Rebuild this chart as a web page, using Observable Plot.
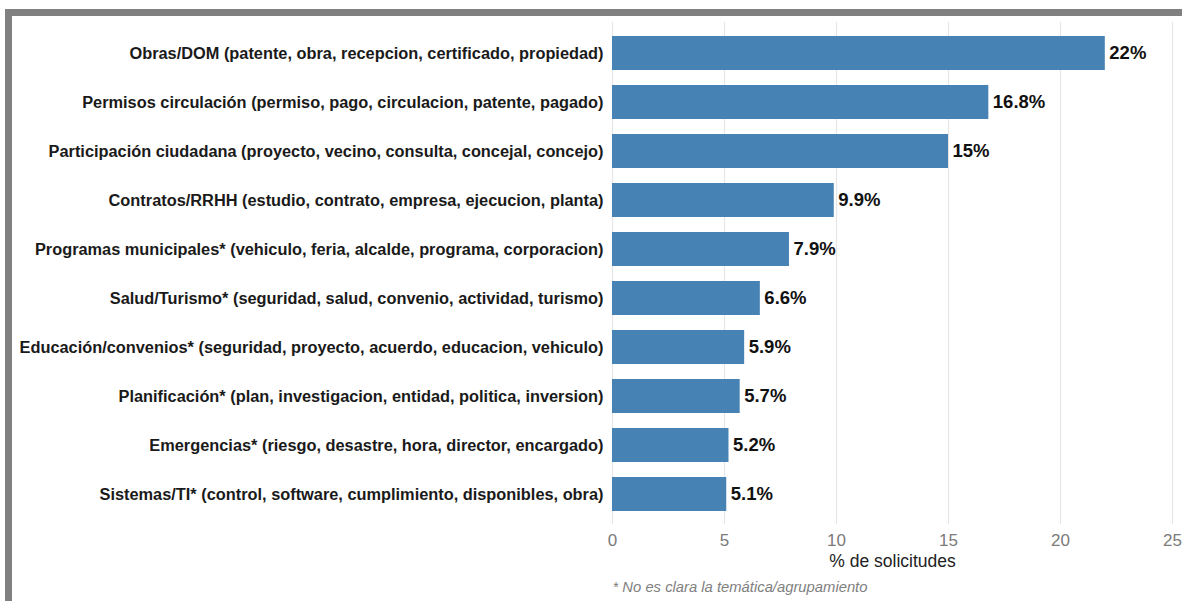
<!DOCTYPE html>
<html>
<head>
<meta charset="utf-8">
<script src="https://cdn.jsdelivr.net/npm/d3@7"></script>
<script src="https://cdn.jsdelivr.net/npm/@observablehq/plot@0.6"></script>
<style>
  html, body { margin: 0; padding: 0; background: #fff; }
  #wrap { position: relative; width: 1182px; height: 601px; overflow: hidden; font-family: "Liberation Sans", Arial, sans-serif; }
  #border { position: absolute; left: 5px; top: 9px; right: 0; bottom: 0; border-top: 7px solid #808080; border-left: 7px solid #808080; pointer-events: none; }
  #wrap svg { position: absolute; left: 0; top: 0; }
</style>
</head>
<body>
<div id="wrap"><div id="border"></div></div>
<script>
const categories = [
  "Obras/DOM (patente, obra, recepcion, certificado, propiedad)",
  "Permisos circulación (permiso, pago, circulacion, patente, pagado)",
  "Participación ciudadana (proyecto, vecino, consulta, concejal, concejo)",
  "Contratos/RRHH (estudio, contrato, empresa, ejecucion, planta)",
  "Programas municipales* (vehiculo, feria, alcalde, programa, corporacion)",
  "Salud/Turismo* (seguridad, salud, convenio, actividad, turismo)",
  "Educación/convenios* (seguridad, proyecto, acuerdo, educacion, vehiculo)",
  "Planificación* (plan, investigacion, entidad, politica, inversion)",
  "Emergencias* (riesgo, desastre, hora, director, encargado)",
  "Sistemas/TI* (control, software, cumplimiento, disponibles, obra)"
];
const values = [22, 16.8, 15, 9.9, 7.9, 6.6, 5.9, 5.7, 5.2, 5.1];
const valueLabels = ["22%", "16.8%", "15%", "9.9%", "7.9%", "6.6%", "5.9%", "5.7%", "5.2%", "5.1%"];
const xTicks = [0, 5, 10, 15, 20, 25];
const xTitle = "% de solicitudes";
const caption = "* No es clara la temática/agrupamiento";

const data = categories.map((c, i) => ({cat: c, value: values[i], label: valueLabels[i]}));

const chart = Plot.plot({
  width: 1182,
  height: 601,
  marginLeft: 612,
  marginRight: 10,
  marginTop: 22,
  marginBottom: 77,
  style: {fontFamily: "'Liberation Sans', Arial, sans-serif", background: "transparent"},
  x: {domain: [0, 25], label: null},
  y: {domain: categories, paddingInner: 0.31, paddingOuter: 0.26, label: null},
  marks: [
    Plot.gridX(xTicks, {stroke: "#e6e6e6", strokeOpacity: 1, strokeWidth: 1.2}),
    Plot.barX(data, {y: "cat", x: "value", fill: "#4682b4"}),
    Plot.text(data, {y: "cat", x: "value", text: "label", textAnchor: "start", dx: 4, fontSize: 18.5, fontWeight: "bold", fill: "#111"}),
    Plot.axisY({tickSize: 0, tickPadding: 9, fontSize: 16.35, fontWeight: "bold", color: "#1a1a1a", label: null}),
    Plot.axisX(xTicks, {tickSize: 0, tickPadding: 9, fontSize: 17, color: "#7a7a7a", label: null}),
    Plot.text([xTitle], {frameAnchor: "bottom", dy: 42, fontSize: 17.5, fill: "#222"}),
    Plot.text([caption], {frameAnchor: "bottom-left", dy: 67, textAnchor: "start", fontSize: 14.8, fontStyle: "italic", fill: "#808080"})
  ]
});
document.getElementById("wrap").insertBefore(chart, document.getElementById("border"));
</script>
</body>
</html>
